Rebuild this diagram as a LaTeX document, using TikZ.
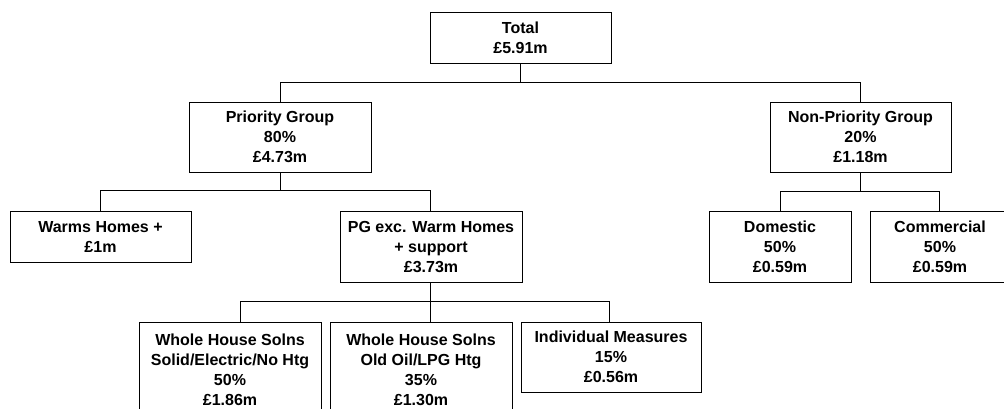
\documentclass[tikz,border=0pt]{standalone}
\usepackage{fontspec}
\setmainfont{Liberation Sans}
\begin{document}
\begin{tikzpicture}[x=1pt,y=-1pt,
  box/.style={draw, line width=1pt, inner sep=0pt, align=center,
    font=\fontsize{16}{20}\selectfont\bfseries},
  conn/.style={line width=1pt}]
\useasboundingbox (0,0) rectangle (1004,408);
\clip (0,0) rectangle (1004,408);

\node[box, minimum width=181pt, minimum height=51pt] (total) at (520.5,37.5) {Total\\£5.91m};
\node[box, minimum width=182pt, minimum height=70pt] (pg) at (280,137) {Priority Group\\80\%\\£4.73m};
\node[box, minimum width=181pt, minimum height=70pt] (np) at (860.5,137) {Non-Priority Group\\20\%\\£1.18m};
\node[box, minimum width=181pt, minimum height=51pt] (warm) at (100.5,236.5) {Warms Homes +\\£1m};
\node[box, minimum width=182pt, minimum height=71pt] (pgx) at (431,246.5) {PG exc. Warm Homes\\+ support\\£3.73m};
\node[box, minimum width=142pt, minimum height=71pt] (dom) at (780,246.5) {Domestic\\50\%\\£0.59m};
\node[box, minimum width=140pt, minimum height=71pt] (com) at (940,246.5) {Commercial\\50\%\\£0.59m};
\node[box, minimum width=182pt, minimum height=96pt] (solid) at (230,370) {Whole House Solns\\Solid/Electric/No Htg\\50\%\\£1.86m};
\node[box, minimum width=182pt, minimum height=96pt] (oil) at (421,370) {Whole House Solns\\Old Oil/LPG Htg\\35\%\\£1.30m};
\node[box, minimum width=180pt, minimum height=70pt] (ind) at (611,357) {Individual Measures\\15\%\\£0.56m};

\coordinate (pgxtop) at ([xshift=-1pt]pgx.north);
\coordinate (comtop) at ([xshift=-1pt]com.north);
\coordinate (pgxbot) at ([xshift=-1pt]pgx.south);
\coordinate (soltop) at ([xshift=10pt]solid.north);
\coordinate (oiltop) at ([xshift=9pt]oil.north);
\coordinate (indtop) at ([xshift=-2pt]ind.north);

\draw[conn] (total.south) -- (total.south |- 0,82);
\draw[conn] (pg.north) |- (np.north |- 0,82) -- (np.north);
\draw[conn] (pg.south) -- (pg.south |- 0,190);
\draw[conn] (warm.north) |- (pgxtop |- 0,190) -- (pgxtop);
\draw[conn] (np.south) -- (np.south |- 0,191);
\draw[conn] (dom.north) |- (comtop |- 0,191) -- (comtop);
\draw[conn] (pgxbot) -- (pgxbot |- 0,301);
\draw[conn] (soltop) |- (indtop |- 0,301) -- (indtop);
\draw[conn] (oiltop) -- (oiltop |- 0,301);
\end{tikzpicture}
\end{document}
